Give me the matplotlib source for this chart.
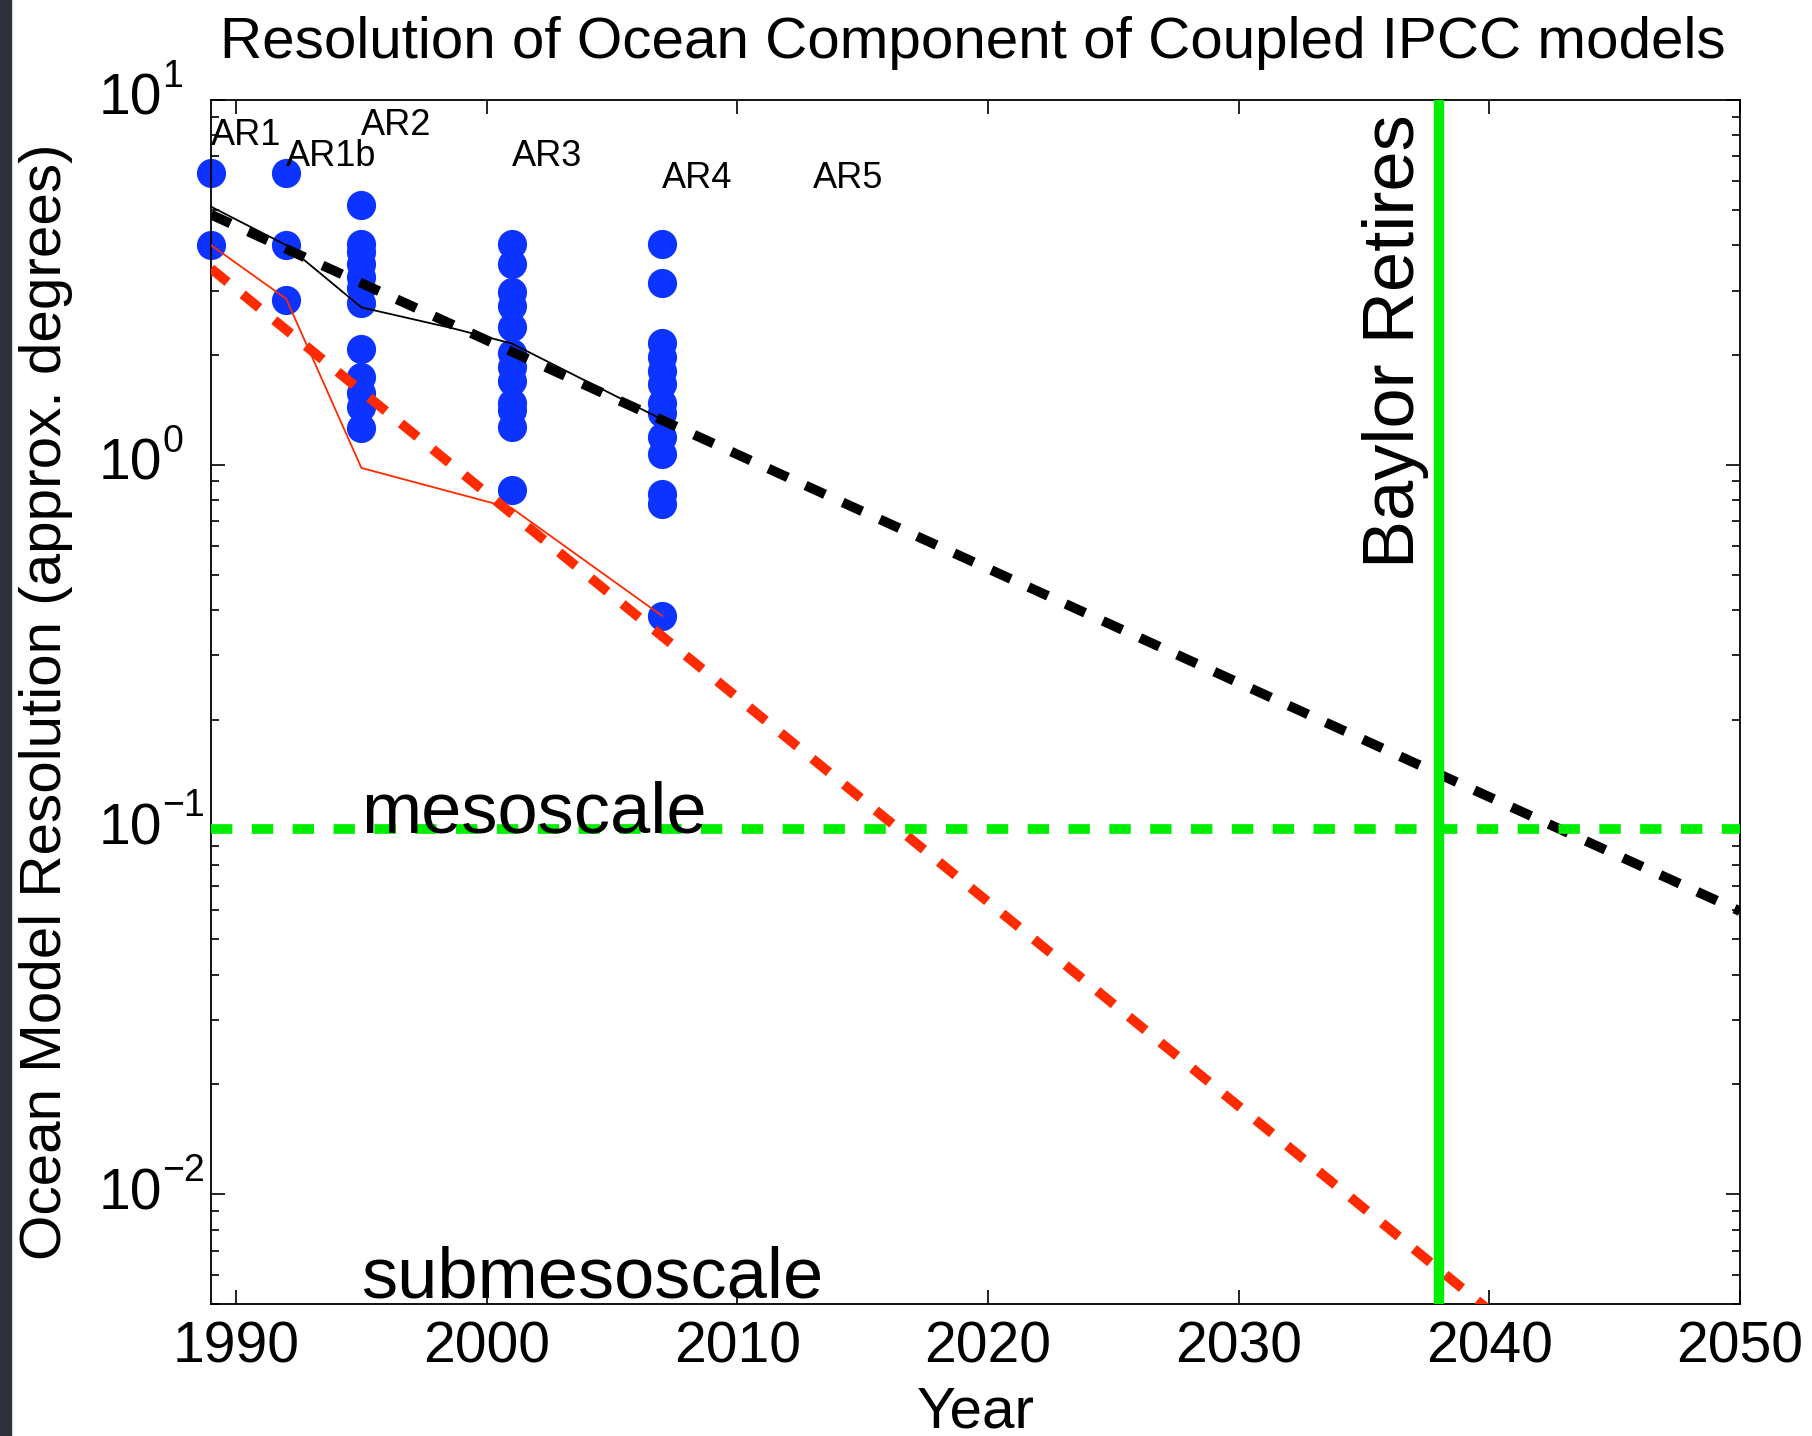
import numpy as np
import matplotlib.pyplot as plt
from matplotlib.patches import Rectangle
from matplotlib.transforms import offset_copy
from matplotlib.ticker import FixedLocator, NullFormatter, LogLocator

plt.rcParams['font.family'] = ['Liberation Sans', 'DejaVu Sans']

# ocean model resolutions (approx. degrees) by assessment report
ar_years = [1989, 1992, 1995, 2001, 2007]
ar1 = [6.3, 4.0]
ar1b = [6.3, 4.0, 2.83]
ar2 = [5.15, 4.02, 3.83, 3.56, 3.27, 3.05, 2.77, 2.08, 1.74, 1.57, 1.44, 1.26]
ar3 = [4.04, 3.56, 2.97, 2.73, 2.39, 2.02, 1.85, 1.70, 1.48, 1.41, 1.27, 0.85]
ar4 = [4.04, 3.15, 2.15, 1.97, 1.81, 1.67, 1.48, 1.39, 1.19, 1.07, 0.83, 0.78, 0.385]
ar_res = [ar1, ar1b, ar2, ar3, ar4]

# AR labels
lab_text = ['AR1', 'AR1b', 'AR2', 'AR3', 'AR4', 'AR5']
lab_x = [1989, 1992, 1995, 2001, 2007, 2013]
lab_y = [8.0, 7.0, 8.5, 7.0, 6.1, 6.1]

# thin lines
mean_years = [1989, 1992, 1995, 1998.6, 2001, 2007]
mean_res = [5.1, 4.0, 2.7, 2.37, 2.15, 1.33]
min_years = [1989, 1992, 1995, 2001, 2007]
min_res = [4.0, 2.85, 0.98, 0.76, 0.385]

# trend lines (endpoints)
trend_mean_x = [1989, 2050]
trend_mean_y = [4.85, 0.0597]
trend_min_x = [1989, 2040]
trend_min_y = [3.45, 0.0048]

meso = 0.1
retire_year = 2038

# y tick labels: 10^exp
ytick_vals = [0.01, 0.1, 1, 10]
ytick_exp = ['\u22122', '\u22121', '0', '1']

W, H = 1812, 1436
fig = plt.figure(figsize=(W / 100, H / 100), dpi=100)
fig.patches.append(Rectangle((0, 0), 11 / W, 1, transform=fig.transFigure,
                             color='#2e313b', zorder=0))
ax = fig.add_axes([211 / W, 1 - 1304 / H, (1740 - 211) / W, (1304 - 100) / H])

blue = '#0c33ff'
red = '#ff2a00'
green = '#00ee00'

for yr, vals in zip(ar_years, ar_res):
    ax.plot([yr] * len(vals), vals, 'o', color=blue, ms=21, mec='none',
            clip_on=False, zorder=2)

ax.plot(mean_years, mean_res, '-', color='black', lw=1.3, zorder=3)
ax.plot(min_years, min_res, '-', color=red, lw=1.3, zorder=3)

ax.plot(trend_mean_x, trend_mean_y, '--', color='black', lw=7,
        dashes=(2.2, 2.0), dash_capstyle='butt', zorder=4)
ax.plot(trend_min_x, trend_min_y, '--', color=red, lw=7,
        dashes=(2.2, 2.0), dash_capstyle='butt', zorder=4)
ax.plot([1989, 2050], [meso, meso], '--', color=green, lw=7,
        dashes=(2.2, 2.0), dash_capstyle='butt', zorder=4)
ax.plot([retire_year, retire_year], [0.005, 10], '-', color=green, lw=7.5,
        solid_capstyle='butt', zorder=4)

for t, x, y in zip(lab_text, lab_x, lab_y):
    ax.text(x, y, t, fontsize=26, ha='left', va='center', zorder=5)

ax.text(1995, 0.098, 'mesoscale', fontsize=52, ha='left', va='baseline', zorder=5)
ax.text(1995, 0.0052, 'submesoscale', fontsize=52, ha='left', va='baseline', zorder=5)
ax.text(2037.6, 0.52, 'Baylor Retires', fontsize=52, rotation=90,
        ha='right', va='bottom', zorder=5)

ax.set_yscale('log')
ax.set_xlim(1989, 2050)
ax.set_ylim(0.005, 10)
ax.xaxis.set_major_locator(FixedLocator([1990, 2000, 2010, 2020, 2030, 2040, 2050]))
ax.yaxis.set_major_locator(FixedLocator(ytick_vals))
ax.yaxis.set_minor_locator(LogLocator(base=10, subs=np.arange(2, 10)))
ax.yaxis.set_major_formatter(NullFormatter())
ax.yaxis.set_minor_formatter(NullFormatter())
ax.tick_params(which='both', direction='in', top=True, right=True, width=1.2)
ax.tick_params(which='major', length=10, labelsize=41, pad=12)
ax.tick_params(which='minor', length=6)
for s in ax.spines.values():
    s.set_linewidth(1.3)

# MATLAB-style 10^n labels with a big exponent
ytr = ax.get_yaxis_transform()
exp_tr = offset_copy(ytr, fig=fig, x=0, y=23, units='dots')
for v, e in zip(ytick_vals, ytick_exp):
    ax.text(-0.032, v, '10', fontsize=41, ha='right', va='center',
            transform=ytr, clip_on=False)
    ax.text(-0.032, v, e, fontsize=27, ha='left', va='center',
            transform=exp_tr, clip_on=False)

ax.set_xlabel('Year', fontsize=42)
ax.set_ylabel('Ocean Model Resolution (approx. degrees)', fontsize=42)
ax.xaxis.set_label_coords(0.5, -0.09)
ax.xaxis.label.set_va('center')
ax.yaxis.set_label_coords(-0.108, 0.5)
ax.yaxis.label.set_va('center')

fig.text(973 / W, 1 - 43 / H, 'Resolution of Ocean Component of Coupled IPCC models',
         fontsize=42, ha='center', va='center')

fig.savefig('out.png', dpi=100)
